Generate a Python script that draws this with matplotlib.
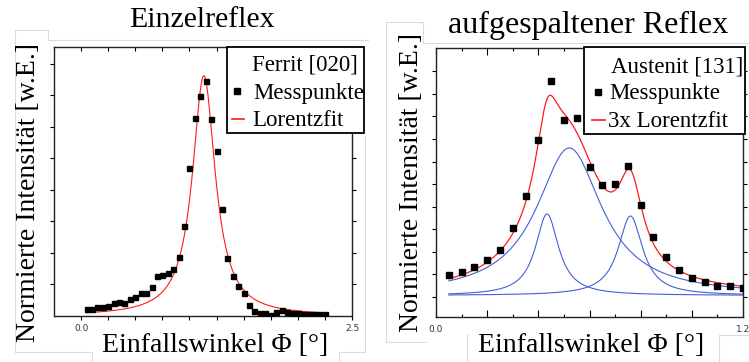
import numpy as np
import matplotlib
matplotlib.use("Agg")
import matplotlib.pyplot as plt
from matplotlib.lines import Line2D
from matplotlib.patches import Rectangle
from matplotlib.ticker import MultipleLocator

W, H = 749, 362
SERIF = ["Liberation Serif", "DejaVu Serif"]

# Ferrit [020] - single reflection (angle in deg, normalised intensity)
phi_f = [0.05, 0.10, 0.15, 0.20, 0.25, 0.30, 0.35, 0.40, 0.45, 0.50,
         0.55, 0.60, 0.65, 0.70, 0.75, 0.80, 0.85, 0.90, 0.95, 1.00,
         1.05, 1.10, 1.15, 1.20, 1.25, 1.30, 1.35, 1.40, 1.45, 1.50,
         1.55, 1.60, 1.65, 1.70, 1.75, 1.80, 1.85, 1.90, 1.95, 2.00,
         2.05, 2.10, 2.15, 2.20, 2.25]
int_f = [0.21, 0.21, 0.27, 0.27, 0.33, 0.40, 0.45, 0.42, 0.54, 0.60,
         0.72, 0.72, 0.93, 1.27, 1.30, 1.35, 1.50, 1.88, 2.86, 4.70,
         6.29, 6.99, 7.44, 6.24, 5.23, 3.39, 1.83, 1.27, 0.96, 0.74,
         0.34, 0.16, 0.08, 0.08, 0.03, 0.14, 0.19, 0.14, 0.08, 0.08,
         0.06, 0.06, 0.06, 0.06, 0.06]
# Lorentz fit: centre, amplitude, half width
fit_f_center, fit_f_amp, fit_f_hwhm = 1.133, 7.62, 0.128
fit_f_range = (0.05, 2.25)

# Austenit [131] - split reflection
phi_a = [0.05, 0.10, 0.15, 0.20, 0.25, 0.30, 0.35, 0.40, 0.45, 0.50,
         0.55, 0.60, 0.65, 0.70, 0.75, 0.80, 0.85, 0.90, 0.95, 1.00,
         1.05, 1.10, 1.15, 1.20]
int_a = [0.96, 1.10, 1.32, 1.63, 2.09, 3.04, 4.48, 6.94, 9.57, 7.86,
         7.95, 5.76, 4.97, 5.01, 5.79, 4.09, 2.66, 1.75, 1.17, 0.82,
         0.64, 0.47, 0.45, 0.39]
# three Lorentz components: broad, left narrow, right narrow
comp_center = [0.521, 0.434, 0.760]
comp_amp = [6.55, 3.62, 3.53]
comp_hwhm = [0.156, 0.055, 0.058]
offset_a = 0.05
fit_a_range = (0.05, 1.20)


def lorentz(x, x0, a, g):
    return a * g ** 2 / ((x - x0) ** 2 + g ** 2)


def fx(x):
    return x / W


def fy(y):
    return 1 - y / H


def ax_rect(l, t, r, b):
    return [l / W, 1 - b / H, (r - l) / W, (b - t) / H]


fig = plt.figure(figsize=(W / 100, H / 100), dpi=100)
fig.patch.set_facecolor("white")

# faint frames of the pasted image pieces
GR = "#dcdcdc"
for pts in [
    [(15, 352), (15, 30), (48, 30), (48, 40), (368, 40)],
    [(15, 352), (92, 352), (92, 362)],
    [(339, 362), (339, 352), (365, 352), (365, 136)],
    [(386, 342), (386, 22), (423, 22), (423, 43), (749, 43)],
    [(386, 342), (426, 342)],
    [(467, 362), (467, 334)],
    [(719, 362), (719, 335), (749, 335)],
]:
    xs, ys = zip(*pts)
    fig.add_artist(Line2D([fx(v) for v in xs], [fy(v) for v in ys],
                          color=GR, lw=0.8, transform=fig.transFigure))

# ---------------- left: Einzelreflex ----------------
axl = fig.add_axes(ax_rect(54, 47, 352, 316))
xf = np.linspace(fit_f_range[0], fit_f_range[1], 400)
axl.plot(xf, lorentz(xf, fit_f_center, fit_f_amp, fit_f_hwhm), color="#ff1a1a", lw=0.8, zorder=2)
axl.plot(phi_f, int_f, "s", color="black", ms=3.6, zorder=3)
axl.set_xlim(-0.25, 2.5)
axl.set_ylim(0, 8.53)
axl.set_xticks(np.arange(0, 2.51, 0.25))
axl.set_xticklabels(["0.0"] + [""] * 9 + ["2.5"])
axl.set_yticks(range(1, 9))
axl.set_yticklabels([])
axl.tick_params(axis="x", bottom=True, top=True, direction="out", length=3, width=0.8,
                pad=3, labelsize=6.5, labelcolor="#333")
axl.tick_params(axis="y", left=True, right=True, direction="out", length=3, width=0.8)
for t in axl.xaxis.get_major_ticks():
    t.tick2line.set_marker(3)
for t in axl.yaxis.get_major_ticks():
    t.tick2line.set_marker(1)
for s in axl.spines.values():
    s.set_linewidth(1.0)
    s.set_color("#222")

# ---------------- right: aufgespaltener Reflex ----------------
axr = fig.add_axes(ax_rect(436, 48, 743, 317))
xa = np.linspace(fit_a_range[0], fit_a_range[1], 400)
comps = [lorentz(xa, c, a, g) + offset_a for c, a, g in zip(comp_center, comp_amp, comp_hwhm)]
for cy in comps:
    axr.plot(xa, cy, color="#4460d4", lw=0.8, zorder=2)
total = sum(lorentz(xa, c, a, g) for c, a, g in zip(comp_center, comp_amp, comp_hwhm)) + offset_a
axr.plot(xa, total, color="#ff1a1a", lw=0.9, zorder=3)
axr.plot(phi_a, int_a, "s", color="black", ms=3.8, zorder=4)
axr.set_xlim(0, 1.2)
axr.set_ylim(-0.905, 11.04)
axr.xaxis.set_minor_locator(MultipleLocator(0.1))
axr.set_xticks([0, 0.2, 0.4, 0.6, 0.8, 1.0, 1.2])
axr.set_xticklabels(["0.0", "", "", "", "", "", "1.2"])
axr.set_yticks(range(0, 11))
axr.set_yticklabels([])
axr.tick_params(axis="x", which="major", bottom=True, top=True, direction="in", length=5,
                width=0.8, pad=6, labelsize=6.5, labelcolor="#333")
axr.tick_params(axis="x", which="minor", bottom=True, top=True, direction="in", length=2.5,
                width=0.8)
axr.tick_params(axis="y", left=True, right=True, direction="out", length=3, width=0.8)
for t in axr.yaxis.get_major_ticks():
    t.tick2line.set_marker(1)
for s in axr.spines.values():
    s.set_linewidth(1.0)
    s.set_color("#222")

# ---------------- texts ----------------
fig.text(fx(202), fy(27), "Einzelreflex", family=SERIF, fontsize=21.5,
         ha="center", va="baseline")
fig.text(fx(588.5), fy(33), "aufgespaltener Reflex", family=SERIF, fontsize=23,
         ha="center", va="baseline")
for xc, yb in [(215, 352), (591.5, 352)]:
    fig.text(fx(xc), fy(yb), "Einfallswinkel \u03a6 [\u00b0]", family=SERIF,
             fontsize=20, ha="center", va="baseline")
for xc, yc in [(29, 192), (411, 183)]:
    fig.text(fx(xc), fy(yc), "Normierte Intensit\u00e4t [w.E.]", family=SERIF,
             fontsize=20, rotation=90, ha="center", va="center")

# ---------------- legends ----------------
def legend_box(l, t, r, b, title, tpos, entries):
    fig.add_artist(Rectangle((fx(l), fy(b)), (r - l) / W, (b - t) / H,
                             transform=fig.transFigure, facecolor="white",
                             edgecolor="black", lw=1.3, zorder=10))
    fig.text(fx(tpos[0]), fy(tpos[1]), title, family=SERIF, fontsize=16.5,
             ha="left", va="baseline", zorder=11)
    for kind, hx, hy, tx, ty, label in entries:
        if kind == "marker":
            fig.add_artist(Line2D([fx(hx)], [fy(hy)], marker="s", ms=5, color="black",
                                  ls="none", transform=fig.transFigure, zorder=11))
        else:
            fig.add_artist(Line2D([fx(hx[0]), fx(hx[1])], [fy(hy), fy(hy)], color="#ff1a1a",
                                  lw=1.2, transform=fig.transFigure, zorder=11))
        fig.text(fx(tx), fy(ty), label, family=SERIF, fontsize=16.5,
                 ha="left", va="baseline", zorder=11)


legend_box(227, 47, 364, 133, "Ferrit [020]", (252, 70), [
    ("marker", 236.7, 91, 253, 99, "Messpunkte"),
    ("line", (232, 244), 119, 252, 126, "Lorentzfit"),
])
legend_box(584, 47, 745, 134, "Austenit [131]", (611, 73), [
    ("marker", 598, 92, 609, 99, "Messpunkte"),
    ("line", (592, 605), 120, 608, 127, "3x Lorentzfit"),
])

fig.savefig("out.png", dpi=100)
